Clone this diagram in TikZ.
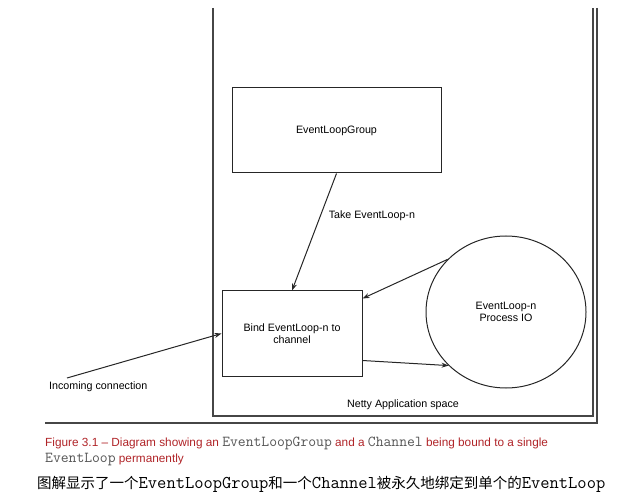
\documentclass[tikz,border=0pt]{standalone}
\usepackage{fontspec}
\setmainfont{Liberation Sans}
\newfontfamily\cjk{Noto Sans CJK SC}
\usetikzlibrary{shapes.geometric,arrows.meta}
\definecolor{capred}{RGB}{176,36,40}
\definecolor{capgray}{RGB}{85,85,85}
\definecolor{framegray}{RGB}{70,70,70}
\newcommand{\capcode}[1]{{\ttfamily\fontsize{15.2}{14}\selectfont\color{capgray}#1}}
\newcommand{\cncode}[1]{{\ttfamily\fontsize{18}{16}\selectfont #1}}
\tikzset{
  diag/.style={font=\fontsize{10.7}{12.5}\selectfont, align=center},
  boxnode/.style={diag, draw=black!85, line width=1pt, rectangle, inner sep=0pt},
  conn/.style={draw=black!85, line width=1pt, -{Stealth[length=7pt,width=5pt]}},
  frame/.style={draw=framegray, line width=1.4pt},
}
\begin{document}
\begin{tikzpicture}[x=1pt,y=-1pt]
\useasboundingbox (0,0) rectangle (631,502);
% frames
\draw[frame] (213,8) -- (213,416) -- (593,416) -- (593,8);
\draw[frame] (597,8) -- (597,423) -- (45,423);
\node[diag] (space) at (403,405) {Netty Application space};
% nodes
\node[boxnode, minimum width=209pt, minimum height=85pt] (elg) at (336.5,130.5) {EventLoopGroup};
\node[boxnode, minimum width=140pt, minimum height=85pt] (bind) at (292,333.5) {Bind EventLoop-n to\\channel};
\node[diag, draw=black!85, line width=1pt, ellipse, inner sep=0pt, minimum width=160pt, minimum height=152pt] (io) at (506,312) {EventLoop-n\\Process IO};
\coordinate (inc) at (67,378);
\node[diag, anchor=west, inner sep=0pt] (inclabel) at (49,387) {Incoming connection};
% connectors
\draw[conn] (elg.south) -- node[diag, anchor=west, pos=0.35, xshift=4pt, yshift=-1pt] (take) {Take EventLoop-n} (bind.north);
\draw[conn] (inc) -- (bind.west);
\draw[conn] (io.138) -- ([yshift=-8pt]bind.north east);
\draw[conn] ([yshift=16pt]bind.south east) -- (io.223);
% caption
\node[anchor=base west, inner sep=0pt, font=\fontsize{11.8}{14}\selectfont, text=capred] (cap1) at (45,446)
  {Figure 3.1 – Diagram showing an \capcode{EventLoopGroup} and a \capcode{Channel} being bound to a single};
\node[anchor=base west, inner sep=0pt, font=\fontsize{11.8}{14}\selectfont, text=capred] (cap2) at (45,462)
  {\capcode{EventLoop} permanently};
\node[anchor=base west, inner sep=0pt, font=\fontsize{14.5}{16}\selectfont] (cap3) at (37,488)
  {{\cjk 图解显示了一个}\cncode{EventLoopGroup}{\cjk 和一个}\cncode{Channel}{\cjk 被永久地绑定到单个的}\cncode{EventLoop}};
\end{tikzpicture}
\end{document}
